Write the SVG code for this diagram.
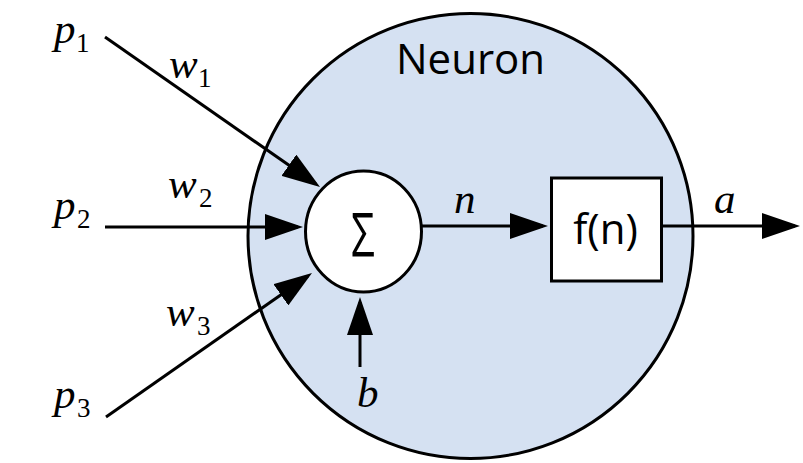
<svg xmlns="http://www.w3.org/2000/svg" width="803" height="463" viewBox="0 0 803 463">
  <style>
    .shape { stroke: #000; stroke-width: 3; }
    .wire { stroke: #000; stroke-width: 3; fill: none; marker-end: url(#arrow); }
    .m { font-family: "Liberation Serif", "Times New Roman", serif; font-style: italic; font-size: 43px; fill: #000; }
    .s { font-style: normal; font-size: 27px; }
    .t { font-family: "Open Sans", "Noto Sans", "Liberation Sans", sans-serif; font-size: 42px; fill: #000; }
  </style>
  <defs>
    <marker id="arrow" markerUnits="userSpaceOnUse" markerWidth="38" markerHeight="26" refX="33" refY="13" orient="auto" viewBox="0 0 38 26">
      <path d="M0,0 L38,13 L0,26 z" fill="#000"/>
    </marker>
  </defs>

  <g id="neuron">
    <circle class="shape" cx="470.5" cy="236" r="222.5" fill="#D5E1F2"/>
    <text class="t" x="470.5" y="74" text-anchor="middle">Neuron</text>
  </g>

  <g id="sum">
    <ellipse class="shape" cx="363.5" cy="231.5" rx="58" ry="60.5" fill="#fff"/>
    <text class="t" transform="translate(363,256) scale(1,1.43)" x="0" y="0" font-size="40" text-anchor="middle">Σ</text>
  </g>

  <g id="activation">
    <rect class="shape" x="551.5" y="178" width="110" height="103" fill="#fff"/>
    <text class="t" x="605.5" y="244" text-anchor="middle">f(n)</text>
  </g>

  <g id="input-p1"><text class="m" x="54" y="43">p<tspan class="s" x="76" y="52">1</tspan></text></g>
  <g id="input-p2"><text class="m" x="54" y="219">p<tspan class="s" x="77" y="228">2</tspan></text></g>
  <g id="input-p3"><text class="m" x="54" y="408">p<tspan class="s" x="77" y="417">3</tspan></text></g>
  <g id="input-b"><text class="m" x="357" y="407">b</text></g>

  <g id="connectors">
    <line class="wire" x1="105" y1="37" x2="315.9" y2="184.1"/>
    <line class="wire" x1="105" y1="227" x2="298" y2="227"/>
    <line class="wire" x1="106" y1="417" x2="307.9" y2="275.9"/>
    <line class="wire" x1="360" y1="367" x2="360" y2="302"/>
    <line class="wire" x1="422" y1="226" x2="543" y2="226"/>
    <line class="wire" x1="662" y1="226" x2="795" y2="226"/>
    <text class="m" x="169" y="78">w<tspan class="s" x="198" y="87">1</tspan></text>
    <text class="m" x="168" y="198">w<tspan class="s" x="199" y="207">2</tspan></text>
    <text class="m" x="166" y="326">w<tspan class="s" x="197" y="335">3</tspan></text>
    <text class="m" x="454" y="213">n</text>
    <text class="m" x="714" y="213">a</text>
  </g>
</svg>
